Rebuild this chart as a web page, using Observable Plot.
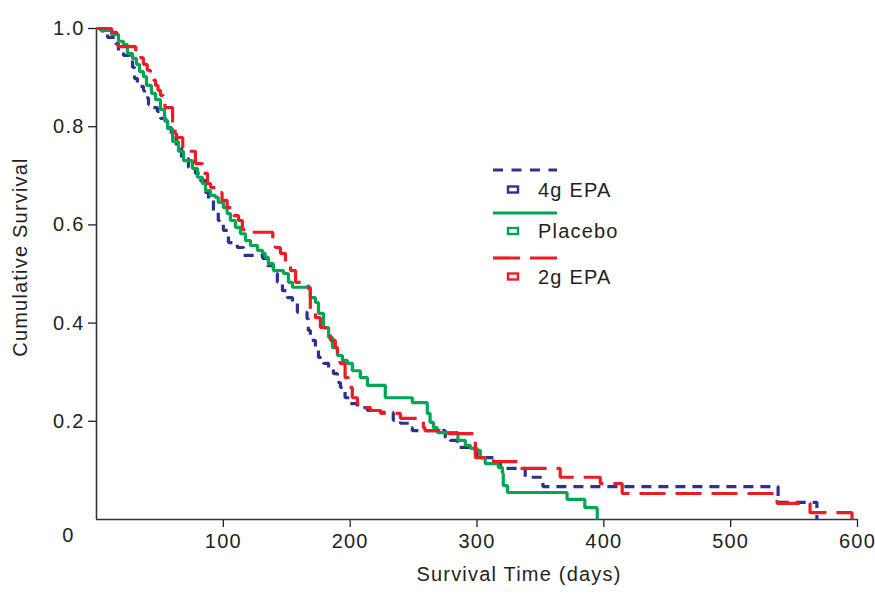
<!DOCTYPE html>
<html><head><meta charset="utf-8">
<script src="https://cdn.jsdelivr.net/npm/d3@7"></script>
<script src="https://cdn.jsdelivr.net/npm/@observablehq/plot@0.6"></script>
<style>body{margin:0;background:#fff}</style>
</head><body><div id="chart"></div>
<script>
// 4g EPA (dashed blue)
const epa4Days = [0,4.7,8.7,15,17.3,21.3,26,28.4,30,32.3,37,37.8,41,43.3,48,50.4,54.4,59,63,67,72.5,78,82,86,88.3,92.2,96,100,104,111,116,131,134.8,139.5,142.6,146.6,150.5,154.5,158.4,166,167,168.6,172.6,175,179,183,186.8,190,192.3,196,200,205.7,213.6,224,234,239.6,247.4,249,275,279,284.5,297,300,316,318.4,338,352,537.4,568];
const epa4Surv = [1.0,0.988,0.982,0.969,0.955,0.945,0.935,0.921,0.898,0.882,0.874,0.859,0.845,0.839,0.831,0.817,0.798,0.778,0.756,0.735,0.717,0.705,0.69,0.666,0.65,0.629,0.609,0.589,0.564,0.554,0.538,0.532,0.517,0.501,0.483,0.466,0.452,0.44,0.422,0.409,0.385,0.365,0.35,0.33,0.318,0.308,0.297,0.279,0.269,0.248,0.236,0.228,0.222,0.218,0.202,0.196,0.187,0.181,0.167,0.161,0.147,0.141,0.126,0.114,0.104,0.086,0.067,0.035,0];
// Placebo (solid green)
const placeboDays = [0,3.2,11.8,17.3,21.3,24.4,28.4,31.5,33.9,37,39.4,43.3,46.5,50.4,53.6,56,60,64.6,68.6,75.6,79.6,83.5,86,89.8,93.8,96,100,103,105.6,109.5,113.5,117.4,121.4,127,131,133,135.5,139.5,147.4,151.3,154.5,168.6,172.6,175,179,183,186,190,193.9,197.8,201.7,208,213.6,227.7,249,260.8,263,265.6,268.7,285,290.8,294.7,300,302.6,306.5,316.8,320,320.7,324,371,385,394.8];
const placeboSurv = [1.0,0.996,0.988,0.974,0.967,0.949,0.939,0.927,0.912,0.902,0.884,0.868,0.855,0.835,0.813,0.796,0.77,0.75,0.731,0.715,0.697,0.684,0.67,0.66,0.656,0.646,0.635,0.623,0.609,0.595,0.582,0.568,0.558,0.548,0.542,0.534,0.521,0.507,0.501,0.483,0.473,0.452,0.442,0.42,0.391,0.371,0.35,0.334,0.324,0.318,0.303,0.289,0.273,0.248,0.238,0.216,0.198,0.187,0.177,0.161,0.151,0.145,0.141,0.126,0.114,0.106,0.094,0.069,0.055,0.041,0.024,0];
// 2g EPA (long-dashed red)
const epa2Days = [0,12,16,17,31,35,37,40,42.5,45,46.5,48.5,50.4,52.5,54,60,62,63,68,78,83.5,87.5,90,94,97.7,99,103,108,112,115,116,139,141,145,149,153,157,167,168.6,172.6,176.5,180.5,184.4,188.3,190,192,196,198.6,201.7,205.7,210.4,216,224,239.6,257.7,259,273,298.7,313,332,365.6,397.2,414.5,536.6,562.6,595.7];
const epa2Surv = [1.0,0.992,0.978,0.963,0.953,0.94,0.927,0.915,0.906,0.895,0.884,0.874,0.864,0.852,0.839,0.796,0.786,0.778,0.75,0.725,0.705,0.684,0.676,0.67,0.666,0.65,0.635,0.619,0.609,0.593,0.585,0.568,0.554,0.542,0.523,0.507,0.483,0.47,0.426,0.411,0.391,0.383,0.365,0.35,0.33,0.318,0.289,0.269,0.248,0.236,0.228,0.222,0.216,0.206,0.187,0.181,0.175,0.126,0.118,0.104,0.086,0.073,0.053,0.033,0.014,0];

const seriesNames = ["4g EPA", "Placebo", "2g EPA"];
const xTicks = [100, 200, 300, 400, 500, 600];
const yTicks = [0.2, 0.4, 0.6, 0.8, 1.0];

const colors = {"4g EPA": "#2e3192", "Placebo": "#00a651", "2g EPA": "#ed1c24"};
const dashes = {"4g EPA": "10,7", "Placebo": null, "2g EPA": "26,10"};
const rows = (name, days, surv) => days.map((d, i) => ({group: name, day: d, surv: surv[i]}));
const tables = {
  "4g EPA": rows("4g EPA", epa4Days, epa4Surv),
  "Placebo": rows("Placebo", placeboDays, placeboSurv),
  "2g EPA": rows("2g EPA", epa2Days, epa2Surv)
};
const ink = "#231f20";
const font = "'Liberation Sans', Arial, Helvetica, sans-serif";

const plot = Plot.plot({
  width: 875, height: 594,
  marginLeft: 96, marginRight: 18, marginTop: 28, marginBottom: 75,
  style: {fontFamily: font, fontSize: "20px", color: ink, background: "#fff", letterSpacing: "1.2px"},
  x: {domain: [0, 600]},
  y: {domain: [0, 1]},
  marks: [
    Plot.axisX({ticks: xTicks, tickSize: 8, tickPadding: 6, label: null, fontSize: 20, strokeWidth: 1.3}),
    Plot.axisY({ticks: yTicks, tickFormat: d3.format(".1f"), tickSize: 8, tickPadding: 4, label: null, fontSize: 20, strokeWidth: 1.3}),
    Plot.ruleX([0], {stroke: "#333", strokeWidth: 1.6}),
    Plot.ruleY([0], {stroke: "#333", strokeWidth: 1.6}),
    ...seriesNames.map(n => Plot.line(tables[n], {
      x: "day", y: "surv", curve: "step-after",
      stroke: colors[n], strokeWidth: 3.2, strokeDasharray: dashes[n] ?? undefined,
      strokeLinejoin: "miter", strokeLinecap: "butt"
    })),
    Plot.text(["Cumulative Survival"], {text: d => d, frameAnchor: "left", textAnchor: "middle", dx: -76, dy: -17, rotate: -90, fontSize: 20, fill: ink}),
    Plot.text(["Survival Time (days)"], {text: d => d, frameAnchor: "bottom", textAnchor: "middle", dx: 42, dy: 61, fontSize: 20, fill: ink}),
    Plot.text(["0"], {text: d => d, frameAnchor: "bottom-left", textAnchor: "middle", dx: -28, dy: 22, fontSize: 20, fill: ink})
  ]
});

// legend
const svg = d3.select(plot);
const leg = svg.append("g");
const legRows = [
  {name: "4g EPA", lineY: 170, markY: 189.5},
  {name: "Placebo", lineY: 213, markY: 231},
  {name: "2g EPA", lineY: 258, markY: 276.5}
];
legRows.forEach(r => {
  leg.append("line").attr("x1", 493).attr("x2", 557).attr("y1", r.lineY).attr("y2", r.lineY)
    .attr("stroke", colors[r.name]).attr("stroke-width", 3.2)
    .attr("stroke-dasharray", r.name === "4g EPA" ? "10,8.5" : r.name === "2g EPA" ? "27,10" : null);
  leg.append("rect").attr("x", 508).attr("y", r.markY - 3).attr("width", 10).attr("height", 6)
    .attr("fill", "#fff").attr("stroke", colors[r.name]).attr("stroke-width", 2.4);
  leg.append("text").attr("x", 538).attr("y", r.markY).attr("dy", "0.35em")
    .attr("text-anchor", "start").attr("font-size", 20).attr("font-family", font)
    .attr("fill", ink).text(r.name);
});

document.getElementById("chart").appendChild(plot);
</script>
</body></html>
